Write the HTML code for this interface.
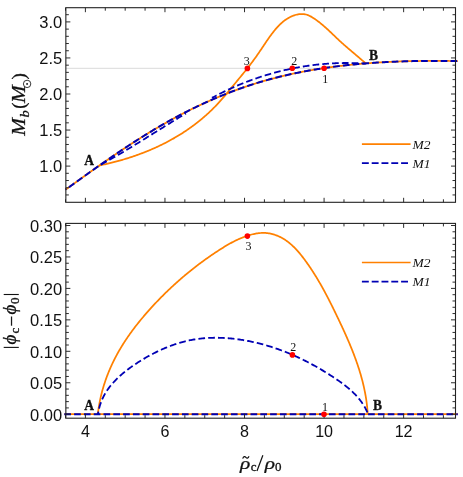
<!DOCTYPE html>
<html><head><meta charset="utf-8"><title>plot</title>
<style>html,body{margin:0;padding:0;background:#fff;}body{width:463px;height:477px;overflow:hidden;font-family:"Liberation Sans",sans-serif;}</style>
</head><body>
<svg width="463" height="477" viewBox="0 0 463 477" style="display:block;will-change:transform">
<rect width="463" height="477" fill="#fff"/>
<line x1="65.85" y1="68.3" x2="455.5" y2="68.3" stroke="#dadada" stroke-width="1"/>
<path d="M65.40,189.40 L66.49,189.02 L67.29,188.44 L68.10,187.86 L68.91,187.28 L69.71,186.69 L70.52,186.11 L71.33,185.53 L72.14,184.95 L72.94,184.36 L73.75,183.78 L74.56,183.20 L75.37,182.62 L76.18,182.03 L76.99,181.45 L77.80,180.87 L78.61,180.29 L79.42,179.70 L80.23,179.12 L81.04,178.54 L81.85,177.96 L82.66,177.38 L83.47,176.79 L84.28,176.21 L85.10,175.63 L85.91,175.05 L86.72,174.47 L87.54,173.89 L88.35,173.31 L89.17,172.73 L89.98,172.15 L90.80,171.57 L91.61,170.99 L92.43,170.41 L93.24,169.83 L94.06,169.25 L94.88,168.67 L95.70,168.10 L96.51,167.52 L97.33,166.94 L98.15,166.37 L98.97,165.79 L99.79,165.21 L100.61,164.64 L101.43,164.06 L102.25,163.49 L103.08,162.92 L103.90,162.34 L104.72,161.77 L105.55,161.20 L106.37,160.63 L107.19,160.06 L108.02,159.49 L108.84,158.92 L109.67,158.35 L110.50,157.78 L111.32,157.21 L112.15,156.64 L112.98,156.08 L113.81,155.51 L114.64,154.95 L115.47,154.38 L116.30,153.82 L117.13,153.26 L117.96,152.69 L118.79,152.13 L119.63,151.57 L120.46,151.01 L121.30,150.45 L122.13,149.90 L122.97,149.34 L123.80,148.78 L124.64,148.23 L125.48,147.67 L126.31,147.12 L127.15,146.57 L127.99,146.02 L128.83,145.47 L129.67,144.92 L130.51,144.37 L131.35,143.82 L132.20,143.27 L133.04,142.73 L133.88,142.18 L134.73,141.64 L135.57,141.10 L136.42,140.56 L137.27,140.02 L138.12,139.48 L138.96,138.94 L139.81,138.40 L140.66,137.87 L141.51,137.33 L142.36,136.80 L143.22,136.27 L144.07,135.74 L144.92,135.21 L145.78,134.68 L146.63,134.15 L147.49,133.63 L148.34,133.10 L149.20,132.58 L150.06,132.06 L150.92,131.54 L151.78,131.02 L152.64,130.50 L153.50,129.98 L154.36,129.47 L155.23,128.96 L156.09,128.44 L156.96,127.93 L157.82,127.42 L158.69,126.92 L159.55,126.41 L160.42,125.91 L161.29,125.40 L162.16,124.90 L163.03,124.40 L163.91,123.90 L164.78,123.41 L165.65,122.91 L166.53,122.42 L167.40,121.93 L168.28,121.44 L169.16,120.95 L170.03,120.46 L170.91,119.98 L171.79,119.49 L172.67,119.01 L173.56,118.53 L174.44,118.05 L175.32,117.57 L176.21,117.10 L177.09,116.62 L177.98,116.15 L178.86,115.68 L179.75,115.21 L180.64,114.75 L181.53,114.28 L182.42,113.82 L183.31,113.36 L184.20,112.90 L185.10,112.44 L185.99,111.99 L186.89,111.53 L187.78,111.08 L188.68,110.63 L189.58,110.18 L190.47,109.73 L191.37,109.29 L192.27,108.84 L193.18,108.40 L194.08,107.96 L194.98,107.53 L195.88,107.09 L196.79,106.66 L197.69,106.22 L198.60,105.79 L199.51,105.37 L200.41,104.94 L201.32,104.52 L202.23,104.09 L203.14,103.67 L204.05,103.25 L204.96,102.84 L205.88,102.42 L206.79,102.01 L207.70,101.60 L208.62,101.19 L209.54,100.79 L210.45,100.38 L211.37,99.98 L212.29,99.58 L213.21,99.18 L214.13,98.78 L215.05,98.39 L215.97,98.00 L216.89,97.61 L217.82,97.22 L218.74,96.83 L219.66,96.45 L220.59,96.07 L221.52,95.69 L222.44,95.31 L223.37,94.94 L224.30,94.56 L225.23,94.19 L226.16,93.82 L227.09,93.46 L228.02,93.09 L228.96,92.73 L229.89,92.37 L230.83,92.01 L231.76,91.65 L232.70,91.30 L233.63,90.95 L234.57,90.60 L235.51,90.25 L236.45,89.91 L237.39,89.57 L238.33,89.23 L239.27,88.89 L240.21,88.55 L241.15,88.22 L242.10,87.89 L243.04,87.56 L243.99,87.23 L244.93,86.91 L245.88,86.59 L246.83,86.27 L247.78,85.95 L248.73,85.64 L249.68,85.32 L250.63,85.01 L251.58,84.71 L252.53,84.40 L253.48,84.10 L254.43,83.80 L255.39,83.50 L256.34,83.21 L257.30,82.91 L258.26,82.62 L259.21,82.33 L260.17,82.05 L261.13,81.76 L262.09,81.48 L263.05,81.20 L264.01,80.93 L264.97,80.65 L265.93,80.38 L266.89,80.11 L267.86,79.84 L268.82,79.58 L269.79,79.32 L270.75,79.06 L271.72,78.80 L272.68,78.54 L273.65,78.29 L274.62,78.04 L275.59,77.79 L276.56,77.54 L277.53,77.30 L278.50,77.05 L279.47,76.81 L280.44,76.58 L281.41,76.34 L282.38,76.11 L283.36,75.88 L284.33,75.65 L285.31,75.42 L286.28,75.19 L287.26,74.97 L288.23,74.75 L289.21,74.53 L290.19,74.32 L291.16,74.10 L292.14,73.89 L293.12,73.68 L294.10,73.47 L295.08,73.27 L296.06,73.06 L297.04,72.86 L298.02,72.66 L299.00,72.46 L299.99,72.27 L300.97,72.07 L301.95,71.88 L302.94,71.69 L303.92,71.50 L304.91,71.32 L305.89,71.13 L306.88,70.95 L307.86,70.77 L308.85,70.60 L309.84,70.42 L310.82,70.25 L311.81,70.07 L312.80,69.90 L313.79,69.73 L314.78,69.57 L315.77,69.40 L316.76,69.24 L317.75,69.08 L318.74,68.92 L319.73,68.77 L320.72,68.61 L321.71,68.46 L322.70,68.31 L323.69,68.16 L324.69,68.01 L325.68,67.86 L326.67,67.72 L327.67,67.58 L328.66,67.44 L329.66,67.30 L330.65,67.16 L331.65,67.02 L332.64,66.89 L333.64,66.76 L334.63,66.63 L335.63,66.50 L336.63,66.37 L337.62,66.25 L338.62,66.13 L339.62,66.00 L340.61,65.88 L341.61,65.77 L342.61,65.65 L343.61,65.53 L344.61,65.42 L345.61,65.31 L346.61,65.20 L347.61,65.09 L348.60,64.99 L349.60,64.88 L350.60,64.78 L351.60,64.67 L352.61,64.57 L353.61,64.48 L354.61,64.38 L355.61,64.28 L356.61,64.19 L357.61,64.10 L358.61,64.00 L359.61,63.92 L360.61,63.83 L361.62,63.74 L362.62,63.66 L363.62,63.57 L364.62,63.49 L365.63,63.41 L366.63,63.33 L367.63,63.25 L368.63,63.18 L369.64,63.10 L370.64,63.03 L371.64,62.96 L372.65,62.89 L373.65,62.82 L374.65,62.75 L375.66,62.68 L376.66,62.62 L377.66,62.55 L378.67,62.49 L379.67,62.43 L380.67,62.37 L381.68,62.31 L382.68,62.26 L383.69,62.20 L384.69,62.15 L385.69,62.09 L386.70,62.04 L387.70,61.99 L388.71,61.94 L389.71,61.89 L390.71,61.85 L391.72,61.80 L392.72,61.76 L393.72,61.71 L394.73,61.67 L395.73,61.63 L396.74,61.59 L397.74,61.55 L398.74,61.52 L399.75,61.48 L400.75,61.45 L401.75,61.41 L402.76,61.38 L403.76,61.35 L404.76,61.32 L405.77,61.29 L406.77,61.26 L407.77,61.24 L408.78,61.21 L409.78,61.19 L410.78,61.16 L411.78,61.14 L412.79,61.12 L413.79,61.10 L414.79,61.08 L415.79,61.06 L416.79,61.04 L417.79,61.03 L418.80,61.01 L419.80,61.00 L420.80,60.99 L421.80,60.97 L422.80,60.96 L423.80,60.95 L424.80,60.94 L425.80,60.94 L426.80,60.93 L427.80,60.92 L428.80,60.92 L429.80,60.91 L430.80,60.91 L431.80,60.91 L432.80,60.91 L433.79,60.90 L434.79,60.90 L435.79,60.91 L436.79,60.91 L437.78,60.91 L438.78,60.91 L439.78,60.92 L440.77,60.92 L441.77,60.93 L442.77,60.94 L443.76,60.94 L444.76,60.95 L445.75,60.96 L446.75,60.97 L447.74,60.98 L448.74,60.99 L449.73,61.00 L450.72,61.02 L451.72,61.03 L452.71,61.05 L453.70,61.06 L454.69,61.08 L455.68,61.09 L456.68,61.11 L457.80,60.90" fill="none" stroke="#ff8000" stroke-width="1.75" stroke-linejoin="round"/>
<path d="M99.10,165.90 L99.99,165.36 L100.97,165.15 L101.95,164.94 L102.93,164.73 L103.91,164.51 L104.89,164.30 L105.87,164.07 L106.85,163.85 L107.83,163.62 L108.81,163.39 L109.78,163.15 L110.76,162.91 L111.73,162.67 L112.71,162.43 L113.68,162.18 L114.65,161.93 L115.62,161.67 L116.60,161.41 L117.57,161.15 L118.53,160.88 L119.50,160.62 L120.47,160.34 L121.44,160.07 L122.40,159.79 L123.36,159.50 L124.33,159.22 L125.29,158.93 L126.25,158.63 L127.21,158.34 L128.17,158.04 L129.13,157.73 L130.08,157.42 L131.04,157.11 L131.99,156.80 L132.94,156.48 L133.90,156.16 L134.85,155.83 L135.79,155.50 L136.74,155.17 L137.69,154.83 L138.63,154.49 L139.57,154.14 L140.52,153.79 L141.46,153.44 L142.40,153.09 L143.33,152.73 L144.27,152.36 L145.20,151.99 L146.13,151.62 L147.06,151.25 L147.99,150.87 L148.92,150.48 L149.85,150.10 L150.77,149.71 L151.69,149.31 L152.61,148.91 L153.53,148.51 L154.45,148.10 L155.37,147.69 L156.28,147.28 L157.19,146.86 L158.10,146.44 L159.01,146.01 L159.91,145.58 L160.82,145.14 L161.72,144.70 L162.62,144.26 L163.52,143.81 L164.41,143.36 L165.30,142.91 L166.20,142.45 L167.09,141.98 L167.97,141.51 L168.86,141.04 L169.74,140.56 L170.62,140.08 L171.50,139.60 L172.37,139.11 L173.25,138.62 L174.12,138.12 L174.99,137.61 L175.86,137.11 L176.72,136.60 L177.58,136.08 L178.44,135.56 L179.30,135.04 L180.15,134.51 L181.00,133.98 L181.85,133.44 L182.70,132.90 L183.54,132.35 L184.39,131.80 L185.23,131.25 L186.06,130.69 L186.90,130.12 L187.73,129.55 L188.55,128.98 L189.38,128.40 L190.20,127.82 L191.02,127.24 L191.84,126.65 L192.65,126.05 L193.46,125.45 L194.27,124.85 L195.07,124.24 L195.87,123.63 L196.67,123.01 L197.46,122.39 L198.25,121.77 L199.04,121.14 L199.82,120.51 L200.60,119.87 L201.38,119.23 L202.15,118.58 L202.92,117.93 L203.68,117.28 L204.45,116.62 L205.20,115.96 L205.96,115.29 L206.70,114.62 L207.45,113.95 L208.19,113.27 L208.93,112.59 L209.66,111.90 L210.39,111.21 L211.11,110.52 L211.83,109.82 L212.55,109.12 L213.26,108.42 L213.96,107.71 L214.66,106.99 L215.36,106.28 L216.05,105.56 L216.74,104.83 L217.42,104.11 L218.10,103.37 L218.78,102.64 L219.45,101.90 L220.12,101.16 L220.78,100.42 L221.44,99.67 L222.10,98.92 L222.76,98.17 L223.41,97.41 L224.07,96.66 L224.71,95.90 L225.36,95.14 L226.01,94.37 L226.65,93.61 L227.30,92.84 L227.94,92.07 L228.58,91.30 L229.22,90.52 L229.86,89.75 L230.50,88.97 L231.14,88.20 L231.78,87.42 L232.42,86.64 L233.06,85.86 L233.70,85.08 L234.34,84.29 L234.98,83.51 L235.63,82.73 L236.27,81.94 L236.92,81.16 L237.56,80.38 L238.21,79.59 L238.86,78.80 L239.50,78.02 L240.15,77.23 L240.79,76.45 L241.44,75.66 L242.08,74.87 L242.73,74.08 L243.37,73.29 L244.01,72.51 L244.65,71.72 L245.28,70.93 L245.92,70.14 L246.55,69.35 L247.17,68.56 L247.80,67.77 L248.42,66.98 L249.04,66.19 L249.65,65.39 L250.26,64.60 L250.87,63.81 L251.47,63.02 L252.07,62.23 L252.66,61.44 L253.25,60.64 L253.83,59.85 L254.41,59.06 L254.98,58.27 L255.55,57.47 L256.11,56.68 L256.67,55.88 L257.23,55.09 L257.78,54.29 L258.34,53.49 L258.89,52.69 L259.43,51.88 L259.98,51.08 L260.53,50.27 L261.08,49.45 L261.63,48.64 L262.18,47.82 L262.73,46.99 L263.29,46.17 L263.85,45.33 L264.41,44.50 L264.97,43.66 L265.54,42.81 L266.11,41.96 L266.69,41.11 L267.27,40.26 L267.86,39.41 L268.45,38.55 L269.05,37.70 L269.65,36.85 L270.26,36.00 L270.88,35.16 L271.50,34.32 L272.13,33.49 L272.77,32.66 L273.41,31.84 L274.06,31.02 L274.71,30.22 L275.38,29.42 L276.05,28.63 L276.73,27.86 L277.42,27.10 L278.12,26.35 L278.83,25.61 L279.55,24.89 L280.27,24.18 L281.01,23.49 L281.76,22.81 L282.51,22.16 L283.28,21.52 L284.06,20.90 L284.84,20.30 L285.64,19.73 L286.45,19.17 L287.27,18.64 L288.11,18.13 L288.95,17.65 L289.81,17.19 L290.68,16.76 L291.57,16.35 L292.46,15.98 L293.37,15.63 L294.30,15.31 L295.23,15.02 L296.18,14.76 L297.15,14.54 L298.13,14.35 L299.11,14.19 L300.11,14.08 L301.10,14.02 L302.10,14.00 L303.09,14.04 L304.07,14.13 L305.05,14.29 L306.01,14.51 L306.95,14.78 L307.88,15.12 L308.80,15.50 L309.71,15.92 L310.60,16.38 L311.49,16.87 L312.36,17.39 L313.22,17.94 L314.07,18.49 L314.92,19.07 L315.75,19.65 L316.58,20.24 L317.40,20.84 L318.20,21.44 L319.01,22.06 L319.80,22.68 L320.59,23.32 L321.37,23.95 L322.15,24.60 L322.92,25.25 L323.68,25.91 L324.44,26.57 L325.19,27.24 L325.94,27.91 L326.69,28.58 L327.43,29.26 L328.17,29.95 L328.91,30.63 L329.64,31.32 L330.37,32.01 L331.10,32.71 L331.83,33.40 L332.56,34.10 L333.28,34.79 L334.01,35.49 L334.74,36.19 L335.46,36.88 L336.19,37.57 L336.92,38.27 L337.65,38.96 L338.38,39.65 L339.11,40.33 L339.85,41.02 L340.59,41.70 L341.33,42.37 L342.07,43.05 L342.82,43.71 L343.57,44.38 L344.32,45.05 L345.08,45.71 L345.83,46.37 L346.59,47.02 L347.35,47.68 L348.11,48.33 L348.87,48.98 L349.64,49.63 L350.40,50.28 L351.17,50.93 L351.93,51.58 L352.70,52.23 L353.47,52.88 L354.23,53.52 L355.00,54.17 L355.77,54.82 L356.53,55.47 L357.30,56.12 L358.06,56.77 L358.83,57.42 L359.59,58.07 L360.36,58.72 L361.12,59.38 L361.88,60.04 L362.63,60.70 L363.39,61.36 L364.15,62.03 L364.90,62.70 L365.70,63.30" fill="none" stroke="#ff8000" stroke-width="1.75" stroke-linejoin="round"/>
<path d="M65.40,189.40 L66.49,189.02 L67.29,188.44 L68.10,187.86 L68.91,187.28 L69.71,186.69 L70.52,186.11 L71.33,185.53 L72.14,184.95 L72.94,184.36 L73.75,183.78 L74.56,183.20 L75.37,182.62 L76.18,182.03 L76.99,181.45 L77.80,180.87 L78.61,180.29 L79.42,179.70 L80.23,179.12 L81.04,178.54 L81.85,177.96 L82.66,177.38 L83.47,176.79 L84.28,176.21 L85.10,175.63 L85.91,175.05 L86.72,174.47 L87.54,173.89 L88.35,173.31 L89.17,172.73 L89.98,172.15 L90.80,171.57 L91.61,170.99 L92.43,170.41 L93.24,169.83 L94.06,169.25 L94.88,168.67 L95.70,168.10 L96.51,167.52 L97.33,166.94 L98.15,166.37 L98.97,165.79 L99.79,165.21 L100.61,164.64 L101.43,164.06 L102.25,163.49 L103.08,162.92 L103.90,162.34 L104.72,161.77 L105.55,161.20 L106.37,160.63 L107.19,160.06 L108.02,159.49 L108.84,158.92 L109.67,158.35 L110.50,157.78 L111.32,157.21 L112.15,156.64 L112.98,156.08 L113.81,155.51 L114.64,154.95 L115.47,154.38 L116.30,153.82 L117.13,153.26 L117.96,152.69 L118.79,152.13 L119.63,151.57 L120.46,151.01 L121.30,150.45 L122.13,149.90 L122.97,149.34 L123.80,148.78 L124.64,148.23 L125.48,147.67 L126.31,147.12 L127.15,146.57 L127.99,146.02 L128.83,145.47 L129.67,144.92 L130.51,144.37 L131.35,143.82 L132.20,143.27 L133.04,142.73 L133.88,142.18 L134.73,141.64 L135.57,141.10 L136.42,140.56 L137.27,140.02 L138.12,139.48 L138.96,138.94 L139.81,138.40 L140.66,137.87 L141.51,137.33 L142.36,136.80 L143.22,136.27 L144.07,135.74 L144.92,135.21 L145.78,134.68 L146.63,134.15 L147.49,133.63 L148.34,133.10 L149.20,132.58 L150.06,132.06 L150.92,131.54 L151.78,131.02 L152.64,130.50 L153.50,129.98 L154.36,129.47 L155.23,128.96 L156.09,128.44 L156.96,127.93 L157.82,127.42 L158.69,126.92 L159.55,126.41 L160.42,125.91 L161.29,125.40 L162.16,124.90 L163.03,124.40 L163.91,123.90 L164.78,123.41 L165.65,122.91 L166.53,122.42 L167.40,121.93 L168.28,121.44 L169.16,120.95 L170.03,120.46 L170.91,119.98 L171.79,119.49 L172.67,119.01 L173.56,118.53 L174.44,118.05 L175.32,117.57 L176.21,117.10 L177.09,116.62 L177.98,116.15 L178.86,115.68 L179.75,115.21 L180.64,114.75 L181.53,114.28 L182.42,113.82 L183.31,113.36 L184.20,112.90 L185.10,112.44 L185.99,111.99 L186.89,111.53 L187.78,111.08 L188.68,110.63 L189.58,110.18 L190.47,109.73 L191.37,109.29 L192.27,108.84 L193.18,108.40 L194.08,107.96 L194.98,107.53 L195.88,107.09 L196.79,106.66 L197.69,106.22 L198.60,105.79 L199.51,105.37 L200.41,104.94 L201.32,104.52 L202.23,104.09 L203.14,103.67 L204.05,103.25 L204.96,102.84 L205.88,102.42 L206.79,102.01 L207.70,101.60 L208.62,101.19 L209.54,100.79 L210.45,100.38 L211.37,99.98 L212.29,99.58 L213.21,99.18 L214.13,98.78 L215.05,98.39 L215.97,98.00 L216.89,97.61 L217.82,97.22 L218.74,96.83 L219.66,96.45 L220.59,96.07 L221.52,95.69 L222.44,95.31 L223.37,94.94 L224.30,94.56 L225.23,94.19 L226.16,93.82 L227.09,93.46 L228.02,93.09 L228.96,92.73 L229.89,92.37 L230.83,92.01 L231.76,91.65 L232.70,91.30 L233.63,90.95 L234.57,90.60 L235.51,90.25 L236.45,89.91 L237.39,89.57 L238.33,89.23 L239.27,88.89 L240.21,88.55 L241.15,88.22 L242.10,87.89 L243.04,87.56 L243.99,87.23 L244.93,86.91 L245.88,86.59 L246.83,86.27 L247.78,85.95 L248.73,85.64 L249.68,85.32 L250.63,85.01 L251.58,84.71 L252.53,84.40 L253.48,84.10 L254.43,83.80 L255.39,83.50 L256.34,83.21 L257.30,82.91 L258.26,82.62 L259.21,82.33 L260.17,82.05 L261.13,81.76 L262.09,81.48 L263.05,81.20 L264.01,80.93 L264.97,80.65 L265.93,80.38 L266.89,80.11 L267.86,79.84 L268.82,79.58 L269.79,79.32 L270.75,79.06 L271.72,78.80 L272.68,78.54 L273.65,78.29 L274.62,78.04 L275.59,77.79 L276.56,77.54 L277.53,77.30 L278.50,77.05 L279.47,76.81 L280.44,76.58 L281.41,76.34 L282.38,76.11 L283.36,75.88 L284.33,75.65 L285.31,75.42 L286.28,75.19 L287.26,74.97 L288.23,74.75 L289.21,74.53 L290.19,74.32 L291.16,74.10 L292.14,73.89 L293.12,73.68 L294.10,73.47 L295.08,73.27 L296.06,73.06 L297.04,72.86 L298.02,72.66 L299.00,72.46 L299.99,72.27 L300.97,72.07 L301.95,71.88 L302.94,71.69 L303.92,71.50 L304.91,71.32 L305.89,71.13 L306.88,70.95 L307.86,70.77 L308.85,70.60 L309.84,70.42 L310.82,70.25 L311.81,70.07 L312.80,69.90 L313.79,69.73 L314.78,69.57 L315.77,69.40 L316.76,69.24 L317.75,69.08 L318.74,68.92 L319.73,68.77 L320.72,68.61 L321.71,68.46 L322.70,68.31 L323.69,68.16 L324.69,68.01 L325.68,67.86 L326.67,67.72 L327.67,67.58 L328.66,67.44 L329.66,67.30 L330.65,67.16 L331.65,67.02 L332.64,66.89 L333.64,66.76 L334.63,66.63 L335.63,66.50 L336.63,66.37 L337.62,66.25 L338.62,66.13 L339.62,66.00 L340.61,65.88 L341.61,65.77 L342.61,65.65 L343.61,65.53 L344.61,65.42 L345.61,65.31 L346.61,65.20 L347.61,65.09 L348.60,64.99 L349.60,64.88 L350.60,64.78 L351.60,64.67 L352.61,64.57 L353.61,64.48 L354.61,64.38 L355.61,64.28 L356.61,64.19 L357.61,64.10 L358.61,64.00 L359.61,63.92 L360.61,63.83 L361.62,63.74 L362.62,63.66 L363.62,63.57 L364.62,63.49 L365.63,63.41 L366.63,63.33 L367.63,63.25 L368.63,63.18 L369.64,63.10 L370.64,63.03 L371.64,62.96 L372.65,62.89 L373.65,62.82 L374.65,62.75 L375.66,62.68 L376.66,62.62 L377.66,62.55 L378.67,62.49 L379.67,62.43 L380.67,62.37 L381.68,62.31 L382.68,62.26 L383.69,62.20 L384.69,62.15 L385.69,62.09 L386.70,62.04 L387.70,61.99 L388.71,61.94 L389.71,61.89 L390.71,61.85 L391.72,61.80 L392.72,61.76 L393.72,61.71 L394.73,61.67 L395.73,61.63 L396.74,61.59 L397.74,61.55 L398.74,61.52 L399.75,61.48 L400.75,61.45 L401.75,61.41 L402.76,61.38 L403.76,61.35 L404.76,61.32 L405.77,61.29 L406.77,61.26 L407.77,61.24 L408.78,61.21 L409.78,61.19 L410.78,61.16 L411.78,61.14 L412.79,61.12 L413.79,61.10 L414.79,61.08 L415.79,61.06 L416.79,61.04 L417.79,61.03 L418.80,61.01 L419.80,61.00 L420.80,60.99 L421.80,60.97 L422.80,60.96 L423.80,60.95 L424.80,60.94 L425.80,60.94 L426.80,60.93 L427.80,60.92 L428.80,60.92 L429.80,60.91 L430.80,60.91 L431.80,60.91 L432.80,60.91 L433.79,60.90 L434.79,60.90 L435.79,60.91 L436.79,60.91 L437.78,60.91 L438.78,60.91 L439.78,60.92 L440.77,60.92 L441.77,60.93 L442.77,60.94 L443.76,60.94 L444.76,60.95 L445.75,60.96 L446.75,60.97 L447.74,60.98 L448.74,60.99 L449.73,61.00 L450.72,61.02 L451.72,61.03 L452.71,61.05 L453.70,61.06 L454.69,61.08 L455.68,61.09 L456.68,61.11 L457.80,60.90" fill="none" stroke="#0000b4" stroke-width="2.0" stroke-linejoin="round" stroke-dasharray="6.7 3.1" stroke-dashoffset="5.60"/>
<path d="M99.10,165.90 L99.90,165.27 L100.80,164.78 L101.69,164.29 L102.58,163.80 L103.47,163.31 L104.35,162.81 L105.24,162.32 L106.13,161.82 L107.01,161.32 L107.90,160.82 L108.78,160.32 L109.66,159.82 L110.55,159.32 L111.43,158.81 L112.31,158.31 L113.19,157.80 L114.07,157.29 L114.95,156.78 L115.82,156.27 L116.70,155.76 L117.58,155.25 L118.45,154.73 L119.33,154.22 L120.20,153.70 L121.08,153.18 L121.95,152.67 L122.82,152.15 L123.70,151.63 L124.57,151.11 L125.44,150.59 L126.31,150.06 L127.18,149.54 L128.05,149.02 L128.92,148.49 L129.79,147.97 L130.66,147.44 L131.52,146.91 L132.39,146.39 L133.26,145.86 L134.12,145.33 L134.99,144.80 L135.86,144.27 L136.72,143.74 L137.59,143.21 L138.45,142.68 L139.32,142.15 L140.18,141.61 L141.05,141.08 L141.91,140.55 L142.77,140.01 L143.64,139.48 L144.50,138.94 L145.36,138.41 L146.23,137.87 L147.09,137.34 L147.95,136.80 L148.81,136.27 L149.67,135.73 L150.54,135.20 L151.40,134.66 L152.26,134.12 L153.12,133.59 L153.98,133.05 L154.85,132.51 L155.71,131.98 L156.57,131.44 L157.43,130.90 L158.29,130.37 L159.15,129.83 L160.02,129.29 L160.88,128.76 L161.74,128.22 L162.60,127.68 L163.46,127.15 L164.33,126.61 L165.19,126.08 L166.05,125.54 L166.91,125.01 L167.78,124.47 L168.64,123.94 L169.50,123.40 L170.37,122.87 L171.23,122.34 L172.10,121.80 L172.96,121.27 L173.82,120.74 L174.69,120.21 L175.56,119.68 L176.42,119.15 L177.29,118.62 L178.15,118.09 L179.02,117.56 L179.89,117.03 L180.75,116.50 L181.62,115.98 L182.49,115.45 L183.36,114.92 L184.23,114.40 L185.10,113.88 L186.00,113.40" fill="none" stroke="#0000b4" stroke-width="1.8" stroke-linejoin="round" stroke-dasharray="6.7 3.1" stroke-dashoffset="7.65"/>
<path d="M212.00,97.90 L212.86,97.40 L213.75,96.92 L214.64,96.44 L215.54,95.97 L216.43,95.50 L217.33,95.04 L218.23,94.57 L219.13,94.11 L220.03,93.65 L220.93,93.20 L221.84,92.75 L222.75,92.30 L223.65,91.86 L224.56,91.42 L225.48,90.98 L226.39,90.54 L227.30,90.11 L228.22,89.68 L229.13,89.25 L230.05,88.83 L230.97,88.41 L231.89,88.00 L232.82,87.58 L233.74,87.17 L234.67,86.77 L235.59,86.36 L236.52,85.96 L237.45,85.57 L238.38,85.17 L239.32,84.78 L240.25,84.39 L241.18,84.01 L242.12,83.63 L243.06,83.25 L244.00,82.88 L244.94,82.51 L245.88,82.14 L246.82,81.77 L247.77,81.41 L248.71,81.06 L249.66,80.70 L250.60,80.35 L251.55,80.00 L252.50,79.66 L253.45,79.32 L254.41,78.98 L255.36,78.65 L256.31,78.31 L257.27,77.99 L258.23,77.66 L259.18,77.34 L260.14,77.02 L261.10,76.71 L262.07,76.40 L263.03,76.09 L263.99,75.79 L264.96,75.49 L265.92,75.19 L266.89,74.90 L267.85,74.61 L268.82,74.32 L269.79,74.04 L270.76,73.76 L271.73,73.48 L272.71,73.21 L273.68,72.94 L274.65,72.67 L275.63,72.41 L276.60,72.15 L277.58,71.90 L278.56,71.65 L279.54,71.40 L280.52,71.15 L281.50,70.91 L282.48,70.68 L283.46,70.44 L284.44,70.21 L285.42,69.98 L286.41,69.76 L287.39,69.54 L288.38,69.32 L289.37,69.11 L290.35,68.90 L291.34,68.70 L292.33,68.49 L293.32,68.30 L294.31,68.10 L295.30,67.91 L296.29,67.72 L297.28,67.54 L298.28,67.36 L299.27,67.18 L300.26,67.01 L301.26,66.84 L302.25,66.67 L303.25,66.51 L304.25,66.35 L305.24,66.20 L306.24,66.05 L307.24,65.90 L308.24,65.75 L309.24,65.61 L310.24,65.48 L311.24,65.34 L312.24,65.21 L313.24,65.09 L314.24,64.97 L315.24,64.85 L316.25,64.73 L317.25,64.62 L318.25,64.51 L319.26,64.41 L320.26,64.31 L321.27,64.21 L322.27,64.12 L323.28,64.03 L324.28,63.94 L325.29,63.86 L326.30,63.78 L327.30,63.71 L328.31,63.64 L329.32,63.57 L330.33,63.51 L331.34,63.45 L332.34,63.39 L333.35,63.34 L334.36,63.29 L335.37,63.24 L336.38,63.20 L337.39,63.16 L338.40,63.13 L339.41,63.10 L340.42,63.07 L341.43,63.05 L342.44,63.03 L343.45,63.02 L344.46,63.01 L345.48,63.00 L346.49,62.99 L347.50,62.99 L348.51,63.00 L349.52,63.00 L350.53,63.01 L351.54,63.03 L352.56,63.05 L353.57,63.07 L354.58,63.10 L355.59,63.12 L356.60,63.16 L357.62,63.20 L358.63,63.24 L359.64,63.28 L360.65,63.33 L361.66,63.38 L362.68,63.44 L363.69,63.50 L364.70,63.56 L365.70,63.30" fill="none" stroke="#0000b4" stroke-width="1.8" stroke-linejoin="round" stroke-dasharray="6.7 3.1" stroke-dashoffset="1.45"/>
<line x1="64.3" y1="414.2" x2="457.8" y2="414.2" stroke="#ff8000" stroke-width="1.75"/>
<path d="M97.80,414.20 L97.96,413.20 L98.08,412.21 L98.20,411.22 L98.33,410.22 L98.47,409.23 L98.61,408.24 L98.77,407.25 L98.92,406.26 L99.09,405.27 L99.26,404.28 L99.44,403.30 L99.62,402.31 L99.81,401.33 L100.01,400.34 L100.22,399.36 L100.43,398.38 L100.65,397.40 L100.87,396.43 L101.10,395.45 L101.34,394.47 L101.58,393.50 L101.83,392.53 L102.08,391.56 L102.35,390.59 L102.61,389.62 L102.89,388.66 L103.17,387.69 L103.45,386.73 L103.75,385.77 L104.04,384.81 L104.35,383.86 L104.66,382.90 L104.98,381.95 L105.30,381.00 L105.63,380.05 L105.96,379.10 L106.30,378.16 L106.64,377.21 L106.99,376.27 L107.35,375.33 L107.71,374.40 L108.08,373.46 L108.45,372.53 L108.83,371.60 L109.22,370.67 L109.61,369.75 L110.00,368.83 L110.40,367.90 L110.81,366.99 L111.22,366.07 L111.64,365.16 L112.06,364.25 L112.49,363.34 L112.92,362.44 L113.36,361.54 L113.80,360.64 L114.25,359.74 L114.70,358.85 L115.16,357.96 L115.62,357.07 L116.09,356.18 L116.56,355.30 L117.04,354.42 L117.52,353.54 L118.01,352.67 L118.50,351.80 L118.99,350.93 L119.50,350.06 L120.00,349.20 L120.51,348.34 L121.02,347.48 L121.54,346.62 L122.07,345.77 L122.59,344.92 L123.12,344.07 L123.66,343.23 L124.20,342.39 L124.74,341.55 L125.29,340.71 L125.84,339.87 L126.40,339.04 L126.96,338.21 L127.52,337.38 L128.09,336.56 L128.66,335.74 L129.24,334.92 L129.82,334.10 L130.40,333.28 L130.98,332.47 L131.57,331.66 L132.17,330.85 L132.76,330.04 L133.36,329.24 L133.97,328.44 L134.57,327.64 L135.18,326.84 L135.79,326.05 L136.41,325.26 L137.03,324.47 L137.65,323.68 L138.28,322.90 L138.90,322.11 L139.53,321.33 L140.17,320.55 L140.81,319.78 L141.44,319.00 L142.09,318.23 L142.73,317.46 L143.38,316.69 L144.03,315.93 L144.68,315.16 L145.34,314.40 L145.99,313.64 L146.65,312.88 L147.32,312.13 L147.98,311.38 L148.65,310.62 L149.32,309.87 L149.99,309.13 L150.66,308.38 L151.33,307.64 L152.01,306.90 L152.69,306.16 L153.37,305.42 L154.06,304.68 L154.74,303.95 L155.43,303.22 L156.12,302.49 L156.81,301.76 L157.50,301.04 L158.20,300.31 L158.90,299.59 L159.60,298.87 L160.30,298.15 L161.00,297.44 L161.71,296.73 L162.42,296.02 L163.13,295.31 L163.84,294.60 L164.55,293.89 L165.27,293.19 L165.98,292.49 L166.70,291.79 L167.43,291.10 L168.15,290.40 L168.87,289.71 L169.60,289.02 L170.33,288.33 L171.06,287.64 L171.80,286.96 L172.53,286.28 L173.27,285.60 L174.01,284.92 L174.75,284.25 L175.49,283.57 L176.24,282.90 L176.98,282.23 L177.73,281.57 L178.48,280.90 L179.24,280.24 L179.99,279.58 L180.75,278.92 L181.51,278.27 L182.27,277.62 L183.03,276.96 L183.79,276.32 L184.56,275.67 L185.32,275.02 L186.09,274.38 L186.86,273.74 L187.64,273.11 L188.41,272.47 L189.19,271.84 L189.97,271.21 L190.75,270.58 L191.53,269.95 L192.32,269.33 L193.10,268.71 L193.89,268.09 L194.68,267.47 L195.47,266.86 L196.26,266.24 L197.06,265.63 L197.85,265.03 L198.65,264.42 L199.45,263.82 L200.26,263.22 L201.06,262.62 L201.87,262.02 L202.67,261.43 L203.48,260.84 L204.29,260.25 L205.11,259.66 L205.92,259.08 L206.74,258.50 L207.55,257.92 L208.37,257.34 L209.19,256.77 L210.02,256.20 L210.84,255.63 L211.67,255.06 L212.50,254.49 L213.33,253.93 L214.16,253.37 L214.99,252.82 L215.83,252.26 L216.66,251.71 L217.50,251.16 L218.34,250.61 L219.18,250.07 L220.03,249.52 L220.87,248.99 L221.72,248.45 L222.57,247.92 L223.42,247.39 L224.28,246.87 L225.13,246.35 L225.99,245.83 L226.86,245.32 L227.72,244.82 L228.59,244.32 L229.46,243.83 L230.34,243.34 L231.22,242.86 L232.10,242.39 L232.99,241.93 L233.88,241.47 L234.77,241.02 L235.67,240.57 L236.57,240.14 L237.48,239.71 L238.39,239.29 L239.31,238.88 L240.23,238.48 L241.16,238.09 L242.09,237.71 L243.03,237.34 L243.97,236.98 L244.91,236.63 L245.87,236.30 L246.83,235.97 L247.79,235.65 L248.76,235.35 L249.74,235.06 L250.72,234.78 L251.70,234.52 L252.69,234.27 L253.68,234.05 L254.68,233.83 L255.67,233.64 L256.67,233.47 L257.67,233.32 L258.67,233.19 L259.67,233.08 L260.67,233.00 L261.67,232.94 L262.66,232.91 L263.66,232.90 L264.65,232.92 L265.64,232.97 L266.63,233.05 L267.61,233.16 L268.59,233.29 L269.56,233.46 L270.53,233.65 L271.49,233.86 L272.45,234.10 L273.40,234.37 L274.34,234.66 L275.28,234.97 L276.21,235.31 L277.14,235.67 L278.05,236.05 L278.96,236.46 L279.86,236.88 L280.75,237.33 L281.63,237.79 L282.50,238.27 L283.36,238.78 L284.21,239.30 L285.05,239.83 L285.88,240.39 L286.70,240.96 L287.50,241.55 L288.30,242.15 L289.08,242.76 L289.86,243.39 L290.62,244.04 L291.37,244.69 L292.12,245.36 L292.85,246.05 L293.58,246.74 L294.30,247.45 L295.00,248.16 L295.70,248.89 L296.39,249.62 L297.08,250.37 L297.75,251.12 L298.42,251.88 L299.08,252.65 L299.73,253.43 L300.38,254.21 L301.02,255.00 L301.65,255.80 L302.28,256.60 L302.90,257.40 L303.52,258.21 L304.13,259.02 L304.74,259.84 L305.34,260.65 L305.94,261.48 L306.53,262.30 L307.12,263.12 L307.70,263.95 L308.28,264.78 L308.85,265.61 L309.42,266.44 L309.99,267.27 L310.55,268.11 L311.11,268.94 L311.66,269.78 L312.21,270.62 L312.76,271.47 L313.30,272.31 L313.84,273.16 L314.38,274.00 L314.91,274.85 L315.44,275.71 L315.96,276.56 L316.49,277.41 L317.00,278.27 L317.52,279.13 L318.03,279.98 L318.54,280.84 L319.05,281.71 L319.55,282.57 L320.05,283.43 L320.55,284.30 L321.04,285.17 L321.53,286.04 L322.02,286.91 L322.51,287.78 L322.99,288.65 L323.47,289.53 L323.95,290.40 L324.43,291.28 L324.90,292.16 L325.37,293.04 L325.84,293.92 L326.31,294.80 L326.77,295.68 L327.24,296.57 L327.70,297.45 L328.16,298.34 L328.61,299.22 L329.07,300.11 L329.52,301.00 L329.98,301.89 L330.43,302.78 L330.88,303.68 L331.32,304.57 L331.77,305.46 L332.22,306.36 L332.66,307.25 L333.10,308.15 L333.54,309.05 L333.99,309.95 L334.42,310.85 L334.86,311.75 L335.30,312.65 L335.74,313.55 L336.17,314.45 L336.61,315.35 L337.04,316.26 L337.48,317.16 L337.91,318.06 L338.34,318.97 L338.78,319.88 L339.21,320.78 L339.64,321.69 L340.07,322.60 L340.50,323.51 L340.92,324.42 L341.35,325.33 L341.77,326.24 L342.20,327.15 L342.62,328.06 L343.04,328.97 L343.46,329.89 L343.88,330.80 L344.29,331.72 L344.71,332.64 L345.12,333.55 L345.53,334.47 L345.94,335.39 L346.35,336.31 L346.76,337.23 L347.16,338.15 L347.56,339.07 L347.96,339.99 L348.36,340.92 L348.76,341.84 L349.15,342.77 L349.54,343.69 L349.93,344.62 L350.31,345.55 L350.70,346.48 L351.08,347.41 L351.46,348.34 L351.83,349.27 L352.21,350.20 L352.58,351.14 L352.94,352.07 L353.31,353.01 L353.67,353.94 L354.03,354.88 L354.38,355.82 L354.73,356.76 L355.08,357.70 L355.43,358.64 L355.77,359.58 L356.11,360.53 L356.44,361.47 L356.77,362.42 L357.10,363.36 L357.43,364.31 L357.75,365.26 L358.06,366.21 L358.38,367.16 L358.69,368.11 L358.99,369.06 L359.29,370.02 L359.59,370.97 L359.88,371.93 L360.17,372.89 L360.46,373.84 L360.74,374.80 L361.01,375.76 L361.28,376.73 L361.55,377.69 L361.81,378.65 L362.07,379.62 L362.32,380.59 L362.57,381.55 L362.81,382.52 L363.05,383.49 L363.29,384.47 L363.52,385.44 L363.74,386.41 L363.96,387.39 L364.17,388.36 L364.38,389.34 L364.58,390.32 L364.78,391.30 L364.97,392.28 L365.16,393.27 L365.34,394.25 L365.52,395.24 L365.69,396.22 L365.85,397.21 L366.01,398.20 L366.16,399.19 L366.31,400.19 L366.45,401.18 L366.58,402.18 L366.71,403.17 L366.84,404.17 L366.95,405.17 L367.06,406.17 L367.17,407.18 L367.26,408.18 L367.35,409.19 L367.44,410.19 L367.52,411.20 L367.59,412.21 L367.65,413.23 L367.80,414.20" fill="none" stroke="#ff8000" stroke-width="1.75" stroke-linejoin="round"/>
<line x1="64.3" y1="414.2" x2="457.8" y2="414.2" stroke="#0000b4" stroke-width="2.0" stroke-dasharray="6.7 3.1"/>
<path d="M97.80,414.20 L98.12,413.30 L98.29,412.27 L98.48,411.25 L98.69,410.24 L98.92,409.23 L99.16,408.23 L99.42,407.24 L99.69,406.26 L99.99,405.28 L100.30,404.31 L100.62,403.35 L100.96,402.40 L101.32,401.46 L101.69,400.53 L102.08,399.60 L102.49,398.68 L102.91,397.77 L103.34,396.87 L103.79,395.98 L104.26,395.10 L104.74,394.23 L105.24,393.37 L105.75,392.51 L106.28,391.67 L106.82,390.84 L107.37,390.01 L107.94,389.20 L108.52,388.39 L109.12,387.60 L109.72,386.81 L110.34,386.03 L110.97,385.26 L111.61,384.49 L112.26,383.74 L112.92,382.99 L113.59,382.25 L114.27,381.52 L114.96,380.80 L115.66,380.08 L116.36,379.37 L117.07,378.67 L117.79,377.97 L118.52,377.29 L119.26,376.60 L120.00,375.93 L120.74,375.26 L121.50,374.60 L122.26,373.94 L123.03,373.29 L123.80,372.65 L124.58,372.01 L125.36,371.38 L126.15,370.75 L126.95,370.14 L127.75,369.52 L128.56,368.91 L129.37,368.31 L130.18,367.72 L131.01,367.12 L131.83,366.54 L132.66,365.96 L133.49,365.38 L134.33,364.81 L135.17,364.25 L136.02,363.69 L136.86,363.14 L137.71,362.59 L138.57,362.04 L139.43,361.50 L140.29,360.96 L141.15,360.43 L142.01,359.91 L142.88,359.38 L143.75,358.86 L144.62,358.35 L145.50,357.84 L146.38,357.34 L147.25,356.84 L148.14,356.34 L149.02,355.85 L149.91,355.37 L150.79,354.89 L151.68,354.41 L152.58,353.94 L153.47,353.48 L154.37,353.02 L155.27,352.57 L156.17,352.12 L157.07,351.68 L157.98,351.24 L158.89,350.81 L159.80,350.38 L160.71,349.96 L161.63,349.55 L162.54,349.14 L163.46,348.74 L164.38,348.34 L165.31,347.95 L166.23,347.57 L167.16,347.19 L168.09,346.82 L169.02,346.46 L169.96,346.10 L170.89,345.75 L171.83,345.41 L172.77,345.07 L173.72,344.74 L174.66,344.41 L175.61,344.10 L176.56,343.79 L177.51,343.49 L178.46,343.19 L179.42,342.90 L180.38,342.62 L181.34,342.35 L182.30,342.08 L183.26,341.82 L184.23,341.57 L185.19,341.33 L186.16,341.09 L187.14,340.87 L188.11,340.65 L189.09,340.44 L190.06,340.23 L191.04,340.04 L192.03,339.85 L193.01,339.67 L194.00,339.50 L194.98,339.34 L195.97,339.18 L196.96,339.04 L197.96,338.90 L198.95,338.77 L199.95,338.65 L200.95,338.54 L201.95,338.43 L202.95,338.33 L203.95,338.24 L204.95,338.16 L205.96,338.09 L206.96,338.02 L207.97,337.96 L208.98,337.91 L209.99,337.87 L211.00,337.83 L212.01,337.80 L213.02,337.78 L214.03,337.76 L215.04,337.75 L216.06,337.75 L217.07,337.75 L218.08,337.77 L219.09,337.79 L220.11,337.81 L221.12,337.84 L222.14,337.88 L223.15,337.93 L224.16,337.98 L225.18,338.04 L226.19,338.10 L227.20,338.17 L228.21,338.25 L229.23,338.33 L230.24,338.42 L231.25,338.52 L232.26,338.62 L233.27,338.73 L234.27,338.84 L235.28,338.96 L236.29,339.08 L237.29,339.21 L238.30,339.35 L239.30,339.49 L240.30,339.64 L241.30,339.79 L242.30,339.94 L243.30,340.11 L244.29,340.27 L245.29,340.45 L246.28,340.62 L247.27,340.81 L248.26,340.99 L249.25,341.19 L250.24,341.38 L251.22,341.59 L252.21,341.79 L253.19,342.01 L254.17,342.23 L255.15,342.45 L256.13,342.68 L257.10,342.91 L258.08,343.14 L259.05,343.39 L260.02,343.63 L260.99,343.88 L261.96,344.14 L262.93,344.40 L263.89,344.67 L264.86,344.94 L265.82,345.21 L266.78,345.49 L267.74,345.78 L268.70,346.07 L269.65,346.36 L270.61,346.66 L271.56,346.96 L272.51,347.27 L273.46,347.58 L274.41,347.89 L275.36,348.21 L276.30,348.54 L277.25,348.87 L278.19,349.20 L279.13,349.54 L280.07,349.88 L281.01,350.23 L281.95,350.58 L282.88,350.93 L283.81,351.29 L284.75,351.65 L285.68,352.02 L286.60,352.39 L287.53,352.77 L288.46,353.15 L289.38,353.53 L290.31,353.92 L291.23,354.31 L292.15,354.71 L293.06,355.11 L293.98,355.51 L294.90,355.92 L295.81,356.33 L296.72,356.74 L297.63,357.16 L298.54,357.59 L299.45,358.01 L300.36,358.44 L301.26,358.88 L302.16,359.32 L303.06,359.76 L303.96,360.20 L304.86,360.65 L305.76,361.10 L306.65,361.56 L307.55,362.02 L308.44,362.48 L309.33,362.95 L310.22,363.42 L311.11,363.90 L311.99,364.37 L312.88,364.86 L313.76,365.34 L314.64,365.83 L315.52,366.32 L316.40,366.81 L317.28,367.31 L318.16,367.81 L319.03,368.32 L319.90,368.83 L320.77,369.34 L321.64,369.85 L322.51,370.37 L323.38,370.89 L324.24,371.42 L325.10,371.94 L325.97,372.47 L326.83,373.01 L327.68,373.54 L328.54,374.08 L329.40,374.62 L330.25,375.17 L331.10,375.72 L331.96,376.27 L332.80,376.82 L333.65,377.38 L334.50,377.94 L335.34,378.50 L336.18,379.07 L337.02,379.64 L337.86,380.22 L338.69,380.80 L339.52,381.38 L340.34,381.97 L341.17,382.56 L341.98,383.16 L342.79,383.76 L343.60,384.37 L344.40,384.98 L345.20,385.60 L345.99,386.22 L346.77,386.85 L347.55,387.49 L348.32,388.13 L349.08,388.78 L349.84,389.43 L350.59,390.10 L351.33,390.77 L352.06,391.44 L352.79,392.13 L353.50,392.82 L354.21,393.52 L354.91,394.23 L355.59,394.94 L356.27,395.67 L356.94,396.40 L357.60,397.14 L358.24,397.90 L358.88,398.66 L359.50,399.43 L360.12,400.21 L360.72,401.00 L361.31,401.79 L361.88,402.60 L362.45,403.42 L363.00,404.25 L363.53,405.10 L364.06,405.95 L364.57,406.81 L365.06,407.68 L365.55,408.57 L366.01,409.47 L366.46,410.38 L366.90,411.30 L367.32,412.23 L367.73,413.18 L367.80,414.20" fill="none" stroke="#0000b4" stroke-width="1.8" stroke-linejoin="round" stroke-dasharray="6.7 3.1" stroke-dashoffset="4.10"/>
<rect x="65.85" y="7.7" width="389.65" height="194.60000000000002" fill="none" stroke="#222" stroke-width="1.1"/>
<rect x="65.85" y="223.4" width="389.65" height="194.79999999999998" fill="none" stroke="#222" stroke-width="1.1"/>
<path d="M65.51,7.70L65.51,10.70M65.51,202.30L65.51,199.30M85.40,7.70L85.40,12.20M85.40,202.30L85.40,197.80M105.29,7.70L105.29,10.70M105.29,202.30L105.29,199.30M125.18,7.70L125.18,10.70M125.18,202.30L125.18,199.30M145.07,7.70L145.07,10.70M145.07,202.30L145.07,199.30M164.96,7.70L164.96,12.20M164.96,202.30L164.96,197.80M184.85,7.70L184.85,10.70M184.85,202.30L184.85,199.30M204.74,7.70L204.74,10.70M204.74,202.30L204.74,199.30M224.63,7.70L224.63,10.70M224.63,202.30L224.63,199.30M244.52,7.70L244.52,12.20M244.52,202.30L244.52,197.80M264.41,7.70L264.41,10.70M264.41,202.30L264.41,199.30M284.30,7.70L284.30,10.70M284.30,202.30L284.30,199.30M304.19,7.70L304.19,10.70M304.19,202.30L304.19,199.30M324.08,7.70L324.08,12.20M324.08,202.30L324.08,197.80M343.97,7.70L343.97,10.70M343.97,202.30L343.97,199.30M363.86,7.70L363.86,10.70M363.86,202.30L363.86,199.30M383.75,7.70L383.75,10.70M383.75,202.30L383.75,199.30M403.64,7.70L403.64,12.20M403.64,202.30L403.64,197.80M423.53,7.70L423.53,10.70M423.53,202.30L423.53,199.30M443.42,7.70L443.42,10.70M443.42,202.30L443.42,199.30M65.51,223.40L65.51,226.40M65.51,418.20L65.51,415.20M85.40,223.40L85.40,227.90M85.40,418.20L85.40,413.70M105.29,223.40L105.29,226.40M105.29,418.20L105.29,415.20M125.18,223.40L125.18,226.40M125.18,418.20L125.18,415.20M145.07,223.40L145.07,226.40M145.07,418.20L145.07,415.20M164.96,223.40L164.96,227.90M164.96,418.20L164.96,413.70M184.85,223.40L184.85,226.40M184.85,418.20L184.85,415.20M204.74,223.40L204.74,226.40M204.74,418.20L204.74,415.20M224.63,223.40L224.63,226.40M224.63,418.20L224.63,415.20M244.52,223.40L244.52,227.90M244.52,418.20L244.52,413.70M264.41,223.40L264.41,226.40M264.41,418.20L264.41,415.20M284.30,223.40L284.30,226.40M284.30,418.20L284.30,415.20M304.19,223.40L304.19,226.40M304.19,418.20L304.19,415.20M324.08,223.40L324.08,227.90M324.08,418.20L324.08,413.70M343.97,223.40L343.97,226.40M343.97,418.20L343.97,415.20M363.86,223.40L363.86,226.40M363.86,418.20L363.86,415.20M383.75,223.40L383.75,226.40M383.75,418.20L383.75,415.20M403.64,223.40L403.64,227.90M403.64,418.20L403.64,413.70M423.53,223.40L423.53,226.40M423.53,418.20L423.53,415.20M443.42,223.40L443.42,226.40M443.42,418.20L443.42,415.20M65.85,194.94L68.85,194.94M455.50,194.94L452.50,194.94M65.85,187.73L68.85,187.73M455.50,187.73L452.50,187.73M65.85,180.52L68.85,180.52M455.50,180.52L452.50,180.52M65.85,173.31L68.85,173.31M455.50,173.31L452.50,173.31M65.85,166.10L70.35,166.10M455.50,166.10L451.00,166.10M65.85,158.89L68.85,158.89M455.50,158.89L452.50,158.89M65.85,151.68L68.85,151.68M455.50,151.68L452.50,151.68M65.85,144.47L68.85,144.47M455.50,144.47L452.50,144.47M65.85,137.26L68.85,137.26M455.50,137.26L452.50,137.26M65.85,130.05L70.35,130.05M455.50,130.05L451.00,130.05M65.85,122.84L68.85,122.84M455.50,122.84L452.50,122.84M65.85,115.63L68.85,115.63M455.50,115.63L452.50,115.63M65.85,108.42L68.85,108.42M455.50,108.42L452.50,108.42M65.85,101.21L68.85,101.21M455.50,101.21L452.50,101.21M65.85,94.00L70.35,94.00M455.50,94.00L451.00,94.00M65.85,86.79L68.85,86.79M455.50,86.79L452.50,86.79M65.85,79.58L68.85,79.58M455.50,79.58L452.50,79.58M65.85,72.37L68.85,72.37M455.50,72.37L452.50,72.37M65.85,65.16L68.85,65.16M455.50,65.16L452.50,65.16M65.85,57.95L70.35,57.95M455.50,57.95L451.00,57.95M65.85,50.74L68.85,50.74M455.50,50.74L452.50,50.74M65.85,43.53L68.85,43.53M455.50,43.53L452.50,43.53M65.85,36.32L68.85,36.32M455.50,36.32L452.50,36.32M65.85,29.11L68.85,29.11M455.50,29.11L452.50,29.11M65.85,21.90L70.35,21.90M455.50,21.90L451.00,21.90M65.85,14.69L68.85,14.69M455.50,14.69L452.50,14.69M65.85,414.20L70.35,414.20M455.50,414.20L451.00,414.20M65.85,407.91L68.85,407.91M455.50,407.91L452.50,407.91M65.85,401.62L68.85,401.62M455.50,401.62L452.50,401.62M65.85,395.33L68.85,395.33M455.50,395.33L452.50,395.33M65.85,389.04L68.85,389.04M455.50,389.04L452.50,389.04M65.85,382.75L70.35,382.75M455.50,382.75L451.00,382.75M65.85,376.46L68.85,376.46M455.50,376.46L452.50,376.46M65.85,370.17L68.85,370.17M455.50,370.17L452.50,370.17M65.85,363.88L68.85,363.88M455.50,363.88L452.50,363.88M65.85,357.59L68.85,357.59M455.50,357.59L452.50,357.59M65.85,351.30L70.35,351.30M455.50,351.30L451.00,351.30M65.85,345.01L68.85,345.01M455.50,345.01L452.50,345.01M65.85,338.72L68.85,338.72M455.50,338.72L452.50,338.72M65.85,332.43L68.85,332.43M455.50,332.43L452.50,332.43M65.85,326.14L68.85,326.14M455.50,326.14L452.50,326.14M65.85,319.85L70.35,319.85M455.50,319.85L451.00,319.85M65.85,313.56L68.85,313.56M455.50,313.56L452.50,313.56M65.85,307.27L68.85,307.27M455.50,307.27L452.50,307.27M65.85,300.98L68.85,300.98M455.50,300.98L452.50,300.98M65.85,294.69L68.85,294.69M455.50,294.69L452.50,294.69M65.85,288.40L70.35,288.40M455.50,288.40L451.00,288.40M65.85,282.11L68.85,282.11M455.50,282.11L452.50,282.11M65.85,275.82L68.85,275.82M455.50,275.82L452.50,275.82M65.85,269.53L68.85,269.53M455.50,269.53L452.50,269.53M65.85,263.24L68.85,263.24M455.50,263.24L452.50,263.24M65.85,256.95L70.35,256.95M455.50,256.95L451.00,256.95M65.85,250.66L68.85,250.66M455.50,250.66L452.50,250.66M65.85,244.37L68.85,244.37M455.50,244.37L452.50,244.37M65.85,238.08L68.85,238.08M455.50,238.08L452.50,238.08M65.85,231.79L68.85,231.79M455.50,231.79L452.50,231.79M65.85,225.50L70.35,225.50M455.50,225.50L451.00,225.50" stroke="#222" stroke-width="0.95" fill="none"/>
<text x="62.2" y="172.0" text-anchor="end" font-family="Liberation Sans, sans-serif" font-size="16.5" fill="#111">1.0</text>
<text x="62.2" y="136.0" text-anchor="end" font-family="Liberation Sans, sans-serif" font-size="16.5" fill="#111">1.5</text>
<text x="62.2" y="99.9" text-anchor="end" font-family="Liberation Sans, sans-serif" font-size="16.5" fill="#111">2.0</text>
<text x="62.2" y="63.9" text-anchor="end" font-family="Liberation Sans, sans-serif" font-size="16.5" fill="#111">2.5</text>
<text x="62.2" y="27.8" text-anchor="end" font-family="Liberation Sans, sans-serif" font-size="16.5" fill="#111">3.0</text>
<text x="62.2" y="420.6" text-anchor="end" font-family="Liberation Sans, sans-serif" font-size="16.5" fill="#111">0.00</text>
<text x="62.2" y="389.1" text-anchor="end" font-family="Liberation Sans, sans-serif" font-size="16.5" fill="#111">0.05</text>
<text x="62.2" y="357.7" text-anchor="end" font-family="Liberation Sans, sans-serif" font-size="16.5" fill="#111">0.10</text>
<text x="62.2" y="326.2" text-anchor="end" font-family="Liberation Sans, sans-serif" font-size="16.5" fill="#111">0.15</text>
<text x="62.2" y="294.8" text-anchor="end" font-family="Liberation Sans, sans-serif" font-size="16.5" fill="#111">0.20</text>
<text x="62.2" y="263.3" text-anchor="end" font-family="Liberation Sans, sans-serif" font-size="16.5" fill="#111">0.25</text>
<text x="62.2" y="231.9" text-anchor="end" font-family="Liberation Sans, sans-serif" font-size="16.5" fill="#111">0.30</text>
<text x="85.4" y="437.2" text-anchor="middle" font-family="Liberation Sans, sans-serif" font-size="16.1" fill="#111">4</text>
<text x="165.0" y="437.2" text-anchor="middle" font-family="Liberation Sans, sans-serif" font-size="16.1" fill="#111">6</text>
<text x="244.5" y="437.2" text-anchor="middle" font-family="Liberation Sans, sans-serif" font-size="16.1" fill="#111">8</text>
<text x="324.1" y="437.2" text-anchor="middle" font-family="Liberation Sans, sans-serif" font-size="16.1" fill="#111">10</text>
<text x="403.6" y="437.2" text-anchor="middle" font-family="Liberation Sans, sans-serif" font-size="16.1" fill="#111">12</text>
<text x="246.8" y="64.8" text-anchor="middle" font-family="Liberation Serif, serif" font-size="12" fill="#111">3</text>
<text x="294.3" y="64.8" text-anchor="middle" font-family="Liberation Serif, serif" font-size="12" fill="#111">2</text>
<text x="325.2" y="82.9" text-anchor="middle" font-family="Liberation Serif, serif" font-size="12" fill="#111">1</text>
<text x="248.5" y="249.9" text-anchor="middle" font-family="Liberation Serif, serif" font-size="12" fill="#111">3</text>
<text x="293.2" y="350.8" text-anchor="middle" font-family="Liberation Serif, serif" font-size="12" fill="#111">2</text>
<text x="324.9" y="411.3" text-anchor="middle" font-family="Liberation Serif, serif" font-size="12" fill="#111">1</text>
<text transform="translate(89.1,164.9) scale(1,1.05)" text-anchor="middle" font-family="Liberation Serif, serif" font-size="13.5" font-weight="bold" fill="#111" stroke="#111" stroke-width="0.3" stroke-linejoin="round">A</text>
<text transform="translate(373.5,60.1) scale(1,1.05)" text-anchor="middle" font-family="Liberation Serif, serif" font-size="13.5" font-weight="bold" fill="#111" stroke="#111" stroke-width="0.3" stroke-linejoin="round">B</text>
<text transform="translate(89.1,409.9) scale(1,1.05)" text-anchor="middle" font-family="Liberation Serif, serif" font-size="13.5" font-weight="bold" fill="#111" stroke="#111" stroke-width="0.3" stroke-linejoin="round">A</text>
<text transform="translate(377.6,410.2) scale(1,1.05)" text-anchor="middle" font-family="Liberation Serif, serif" font-size="13.5" font-weight="bold" fill="#111" stroke="#111" stroke-width="0.3" stroke-linejoin="round">B</text>
<circle cx="247.4" cy="68.4" r="2.8" fill="#f00"/>
<circle cx="292.3" cy="68.3" r="2.8" fill="#f00"/>
<circle cx="324.1" cy="68.3" r="2.8" fill="#f00"/>
<circle cx="247.4" cy="236.1" r="2.8" fill="#f00"/>
<circle cx="292.4" cy="354.9" r="2.8" fill="#f00"/>
<circle cx="324.0" cy="414.3" r="2.8" fill="#f00"/>
<line x1="361.9" y1="144.1" x2="410.6" y2="144.1" stroke="#ff8000" stroke-width="1.6"/>
<line x1="361.9" y1="163.1" x2="410.6" y2="163.1" stroke="#0000b4" stroke-width="1.75" stroke-dasharray="6.9 2.9"/>
<text x="412.6" y="149.0" font-family="Liberation Serif, serif" font-style="italic" font-size="13.5" fill="#111">M2</text>
<text x="412.6" y="168.0" font-family="Liberation Serif, serif" font-style="italic" font-size="13.5" fill="#111">M1</text>
<line x1="361.9" y1="262.5" x2="410.6" y2="262.5" stroke="#ff8000" stroke-width="1.6"/>
<line x1="361.9" y1="281.5" x2="410.6" y2="281.5" stroke="#0000b4" stroke-width="1.75" stroke-dasharray="6.9 2.9"/>
<text x="412.6" y="267.4" font-family="Liberation Serif, serif" font-style="italic" font-size="13.5" fill="#111">M2</text>
<text x="412.6" y="286.4" font-family="Liberation Serif, serif" font-style="italic" font-size="13.5" fill="#111">M1</text>
<text transform="translate(239.9,468.9) scale(1.13,0.84)" font-family="Liberation Serif, serif" font-size="19" font-style="italic" fill="#111" stroke="#111" stroke-width="0.265">ρ</text>
<path d="M242.7,458.6 C243.5,456.2 245.0,456.2 245.9,457.3 C246.8,458.5 248.2,458.6 249.0,456.3" fill="none" stroke="#111" stroke-width="1.15"/>
<text x="250.8" y="470.6" font-family="Liberation Serif, serif" font-size="13" fill="#111" stroke="#111" stroke-width="0.3">c</text>
<line x1="257.0" y1="471.0" x2="262.9" y2="455.3" stroke="#111" stroke-width="1.2"/>
<text transform="translate(264.7,468.9) scale(1.13,0.84)" font-family="Liberation Serif, serif" font-size="19" font-style="italic" fill="#111" stroke="#111" stroke-width="0.265">ρ</text>
<text x="275.0" y="470.6" font-family="Liberation Serif, serif" font-size="13" fill="#111" stroke="#111" stroke-width="0.3">0</text>
<g transform="translate(24.8,135.8) rotate(-90)">
<text transform="translate(0,0) scale(1.12,1)" font-family="Liberation Serif, serif" font-size="19" font-style="italic" fill="#111" stroke="#111" stroke-width="0.268">M</text>
<text transform="translate(18.4,4.0) scale(1.08,1)" font-family="Liberation Serif, serif" font-size="13.5" font-style="italic" fill="#111" stroke="#111" stroke-width="0.278">b</text>
<text x="27.0" y="0" font-family="Liberation Serif, serif" font-size="19" fill="#111" stroke="#111" stroke-width="0.3">(</text>
<text transform="translate(32.8,0) scale(1.12,1)" font-family="Liberation Serif, serif" font-size="19" font-style="italic" fill="#111" stroke="#111" stroke-width="0.268">M</text>
<circle cx="51.9" cy="2.3" r="3.7" fill="none" stroke="#111" stroke-width="0.85"/><circle cx="51.9" cy="2.3" r="0.95" fill="#111"/>
<text x="56.4" y="0" font-family="Liberation Serif, serif" font-size="19" fill="#111" stroke="#111" stroke-width="0.3">)</text>
</g>
<g transform="translate(15.3,348.6) rotate(-90)">
<line x1="1.2" y1="-11.6" x2="1.2" y2="3.5" stroke="#111" stroke-width="1.1"/>
<text x="4.0" y="0.8" font-family="Liberation Serif, serif" font-size="19" font-style="italic" fill="#111" stroke="#111" stroke-width="0.3">ϕ</text>
<text x="15.0" y="3.6" font-family="Liberation Serif, serif" font-size="13" fill="#111" stroke="#111" stroke-width="0.3">c</text>
<text x="22.0" y="2.9" font-family="Liberation Serif, serif" font-size="19" fill="#111" stroke="#111" stroke-width="0.3">−</text>
<text x="34.0" y="0.8" font-family="Liberation Serif, serif" font-size="19" font-style="italic" fill="#111" stroke="#111" stroke-width="0.3">ϕ</text>
<text x="44.6" y="3.4" font-family="Liberation Serif, serif" font-size="13" fill="#111" stroke="#111" stroke-width="0.3">0</text>
<line x1="54.1" y1="-11.6" x2="54.1" y2="3.5" stroke="#111" stroke-width="1.1"/>
</g>
</svg>
</body></html>
